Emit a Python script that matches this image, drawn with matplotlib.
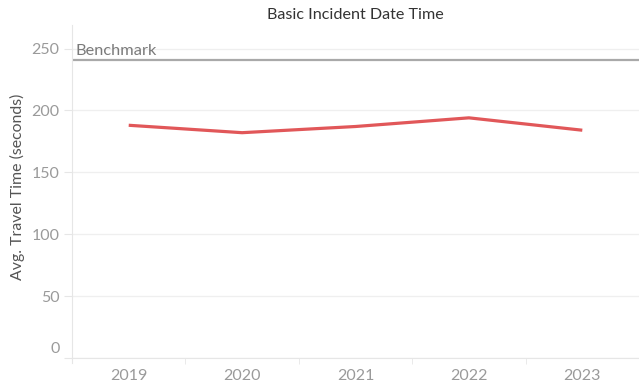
import matplotlib.pyplot as plt
from matplotlib.ticker import FixedLocator
import matplotlib.transforms as mtransforms

plt.rcParams['font.family'] = ['Lato', 'DejaVu Sans']

years = ['2019', '2020', '2021', '2022', '2023']
avg_travel = [188, 182, 187, 194, 184]
benchmark = 241
y_ticks = [0, 50, 100, 150, 200, 250]

fig = plt.figure(figsize=(6.39, 3.87), dpi=100)
ax = fig.add_axes([0.1127, 0.075, 0.8873, 0.8604])

x = list(range(len(years)))
ax.plot(x, avg_travel, color='#e15759', lw=2.3, solid_capstyle='butt', zorder=3)
ax.axhline(benchmark, color='#a9a9a9', lw=1.6, zorder=2)
ax.text(-0.47, benchmark + 3.8, 'Benchmark', color='#7a7a7a', fontsize=11.8,
        va='baseline', ha='left')

ax.set_xlim(-0.5, len(years) - 0.5)
ax.set_ylim(0, 269)

ax.set_yticks(y_ticks)
ax.yaxis.grid(True, color='#efefef', lw=0.9)
ax.set_axisbelow(True)
ax.tick_params(axis='y', length=6, color='#e6e6e6', labelcolor='#9a9a9a',
               labelsize=11.5, pad=3)

# 0 label sits slightly above its gridline
lbl0 = ax.get_yticklabels()[0]
lbl0.set_transform(lbl0.get_transform() +
                   mtransforms.ScaledTranslation(0, 10 / 100, fig.dpi_scale_trans))

# year labels centred in bands, tick marks at band edges
ax.set_xticks(x)
ax.set_xticklabels(years)
ax.tick_params(axis='x', length=0, labelcolor='#9a9a9a', labelsize=11.5, pad=8)
ax.xaxis.set_minor_locator(FixedLocator([i + 0.5 for i in x[:-1]]))
ax.tick_params(axis='x', which='minor', length=4, color='#e6e6e6')

for side in ['top', 'right']:
    ax.spines[side].set_visible(False)
ax.spines['left'].set_color('#e6e6e6')
ax.spines['bottom'].set_color('#e6e6e6')
ax.spines['left'].set_bounds(-4, 269)

ax.set_ylabel('Avg. Travel Time (seconds)', color='#555555', fontsize=11.4)
ax.yaxis.set_label_coords(-0.083, 0.513)

fig.text(0.556, 0.962, 'Basic Incident Date Time', ha='center', va='center',
         color='#333333', fontsize=11.6)

fig.savefig('out.png', dpi=100)
